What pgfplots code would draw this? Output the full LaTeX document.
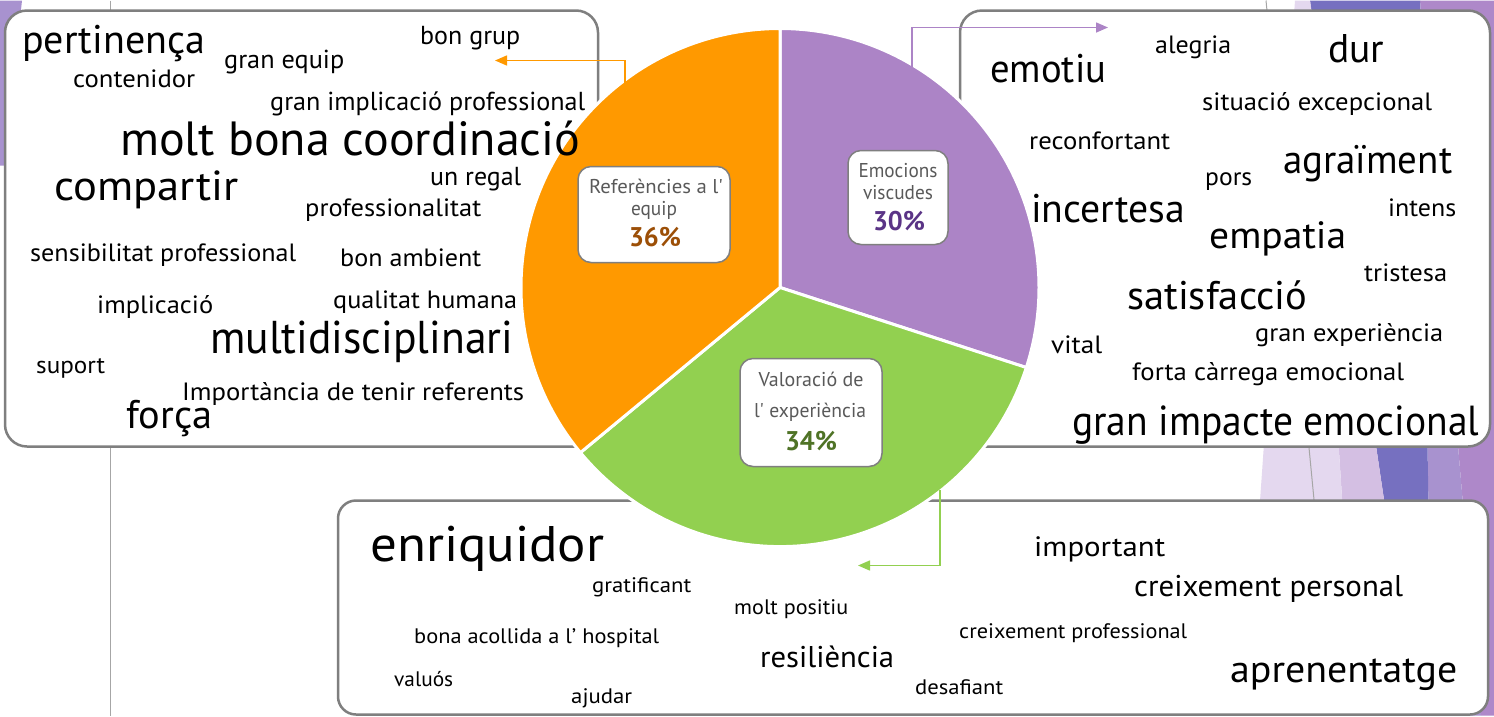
\documentclass[border=0pt]{standalone}
\usepackage{pgfplots}
\pgfplotsset{compat=1.18}
\usepackage{pgfplotstable}
\usetikzlibrary{arrows.meta}
\usepackage{graphicx}
\usepackage{fontspec}
\setmainfont{PT Sans}
\newfontfamily\pf{PT Sans}

\definecolor{cor}{HTML}{FF9900}
\definecolor{cpu}{HTML}{AC84C6}
\definecolor{cgr}{HTML}{92D050}
\definecolor{tor}{HTML}{9C4F07}
\definecolor{tpu}{HTML}{5A3486}
\definecolor{tgr}{HTML}{4F7326}
\definecolor{bord}{HTML}{7F7F7F}
\definecolor{labg}{HTML}{595959}
\definecolor{bgl}{HTML}{E4D8EF}
\definecolor{bgm}{HTML}{D4BFE3}
\definecolor{bgd}{HTML}{7670C0}
\definecolor{bgp}{HTML}{A892CF}
\definecolor{bgq}{HTML}{AE88C9}
\definecolor{lin}{HTML}{A6A6A6}

\pgfplotstableread{
label value
Emocions 30
Valoracio 34
Referencies 36
}\pietable
\pgfplotstablegetelem{0}{value}\of\pietable \let\va\pgfplotsretval
\pgfplotstablegetelem{1}{value}\of\pietable \let\vb\pgfplotsretval
\pgfplotstablegetelem{2}{value}\of\pietable \let\vc\pgfplotsretval
\pgfmathsetmacro\aA{90-3.6*\va}
\pgfmathsetmacro\aB{\aA-3.6*\vb}
\pgfmathsetmacro\aC{\aB-3.6*\vc}

\newcommand{\W}[5]{\node[anchor=base west, inner sep=0pt, text=black] at (axis cs:#1,#2) {\fontsize{#3pt}{#3pt}\selectfont\resizebox{#4pt}{\height}{#5}};}
\newcommand{\Lab}[6]{\node[anchor=base, inner sep=0pt, text=#6] at (axis cs:#1,#2) {\pf\fontsize{#3pt}{#3pt}\selectfont\resizebox{#4pt}{\height}{#5}};}

\begin{document}
\begin{tikzpicture}
\begin{axis}[width=1494pt, height=715pt, scale only axis, xmin=0, xmax=1494, ymin=0, ymax=715, y dir=reverse, hide axis, clip=false]
% background
\fill[white] (axis cs:0,0) rectangle (axis cs:1494,715);
\fill[bgq] (axis cs:1420,0) -- (axis cs:1494,0) -- (axis cs:1494,715) -- (axis cs:1481,715) -- cycle;
\fill[bgp] (axis cs:1420,0) -- (axis cs:1481,715) -- (axis cs:1432,715) -- cycle;
\fill[bgd] (axis cs:1310,0) -- (axis cs:1420,0) -- (axis cs:1432,715) -- (axis cs:1416,715) -- cycle;
\fill[bgm] (axis cs:1310,0) -- (axis cs:1416,715) -- (axis cs:1356,715) -- cycle;
\fill[bgl] (axis cs:1295,0) -- (axis cs:1310,0) -- (axis cs:1356,715) -- (axis cs:1245,715) -- cycle;
\fill[bgp] (axis cs:0,0) -- (axis cs:22,0) -- (axis cs:4,165) -- (axis cs:0,165) -- cycle;
\draw[lin, line width=1pt] (axis cs:110,0) -- (axis cs:110,715);
\draw[lin, line width=1pt] (axis cs:1266,0) -- (axis cs:1316,520);
% boxes
\draw[bord, line width=2.5pt, fill=white, rounded corners=22pt] (axis cs:5,10) rectangle (axis cs:598,446);
\draw[bord, line width=2.5pt, fill=white, rounded corners=22pt] (axis cs:960,10) rectangle (axis cs:1490,446);
\draw[bord, line width=2.5pt, fill=white, rounded corners=18pt] (axis cs:338,500) rectangle (axis cs:1488,714);
% pie
\fill[cpu, draw=white, line width=3pt, line join=round] (axis cs:780,287) -- ++(90:259pt) arc[start angle=90, end angle=\aA, radius=259pt] -- cycle;
\fill[cgr, draw=white, line width=3pt, line join=round] (axis cs:780,287) -- ++(\aA:259pt) arc[start angle=\aA, end angle=\aB, radius=259pt] -- cycle;
\fill[cor, draw=white, line width=3pt, line join=round] (axis cs:780,287) -- ++(\aB:259pt) arc[start angle=\aB, end angle=\aC, radius=259pt] -- cycle;
% leaders
\draw[cor, line width=1.5pt, -{Triangle[length=12pt,width=10pt]}] (axis cs:625,82) -- (axis cs:625,60) -- (axis cs:495,60);
\draw[cpu, line width=1.5pt, -{Triangle[length=12pt,width=10pt]}] (axis cs:912,66) -- (axis cs:912,27) -- (axis cs:1108,27);
\draw[cgr, line width=1.5pt, -{Triangle[length=12pt,width=10pt]}] (axis cs:940,489) -- (axis cs:940,565) -- (axis cs:858,565);
% label boxes
\draw[bord, line width=1.5pt, fill=white, rounded corners=13pt] (axis cs:578,166) rectangle (axis cs:730,262);
\draw[bord, line width=1.5pt, fill=white, rounded corners=13pt] (axis cs:848,150) rectangle (axis cs:948,244);
\draw[bord, line width=1.5pt, fill=white, rounded corners=13pt] (axis cs:740,358) rectangle (axis cs:882,466);
\Lab{656}{193}{20}{134}{Referències a l'}{labg}
\Lab{654}{215}{20}{46}{equip}{labg}
\Lab{655}{246}{27}{52}{\bfseries 36\%}{tor}
\Lab{898}{177}{20}{79}{Emocions}{labg}
\Lab{898}{199}{20}{70}{viscudes}{labg}
\Lab{899}{230}{27}{52}{\bfseries 30\%}{tpu}
\Lab{811}{386}{20}{105}{Valoració de}{labg}
\Lab{810}{417}{20}{112}{l' experiència}{labg}
\Lab{811}{450}{27}{52}{\bfseries 34\%}{tgr}
% left box words
\W{22}{53}{40}{183}{pertinença}
\W{224}{68}{26}{120}{gran equip}
\W{420}{44}{26}{100}{bon grup}
\W{73}{87}{25}{122}{contenidor}
\W{270}{110}{26}{315}{gran implicació professional}
\W{120}{155}{48}{460}{molt bona coordinació}
\W{54}{200}{42}{184}{compartir}
\W{430}{185}{26}{91}{un regal}
\W{305}{216}{25}{176}{professionalitat}
\W{30}{261}{25}{266}{sensibilitat professional}
\W{340}{266}{25}{141}{bon ambient}
\W{97}{313}{25}{116}{implicació}
\W{333}{308}{25}{184}{qualitat humana}
\W{210}{353}{46}{303}{multidisciplinari}
\W{36}{373}{24}{69}{suport}
\W{182}{400}{25}{342}{Importància de tenir referents}
\W{126}{428}{40}{86}{força}
% right box words
\W{990}{82}{40}{116}{emotiu}
\W{1155}{53}{25}{76}{alegria}
\W{1328}{62}{40}{56}{dur}
\W{1202}{110}{25}{230}{situació excepcional}
\W{1029}{149}{25}{141}{reconfortant}
\W{1205}{185}{25}{47}{pors}
\W{1283}{173}{40}{169}{agraïment}
\W{1031}{222}{40}{154}{incertesa}
\W{1388}{216}{25}{68}{intens}
\W{1209}{248}{38}{137}{empatia}
\W{1364}{281}{25}{83}{tristesa}
\W{1127}{309}{40}{180}{satisfacció}
\W{1255}{341}{25}{188}{gran experiència}
\W{1051}{353}{25}{51}{vital}
\W{1132}{380}{25}{272}{forta càrrega emocional}
\W{1072}{435}{42}{407}{gran impacte emocional}
% bottom box words
\W{370}{561}{50}{234}{enriquidor}
\W{592}{592}{21}{99}{gratificant}
\W{734}{614}{21}{114}{molt positiu}
\W{414}{643}{21}{245}{bona acollida a l’ hospital}
\W{760}{667}{30}{134}{resiliència}
\W{394}{686}{21}{59}{valuós}
\W{571}{703}{21}{61}{ajudar}
\W{915}{694}{21}{88}{desafiant}
\W{1034}{556}{28}{131}{important}
\W{1134}{596}{30}{269}{creixement personal}
\W{959}{638}{21}{228}{creixement professional}
\W{1230}{682}{38}{227}{aprenentatge}
\end{axis}
\end{tikzpicture}
\end{document}
